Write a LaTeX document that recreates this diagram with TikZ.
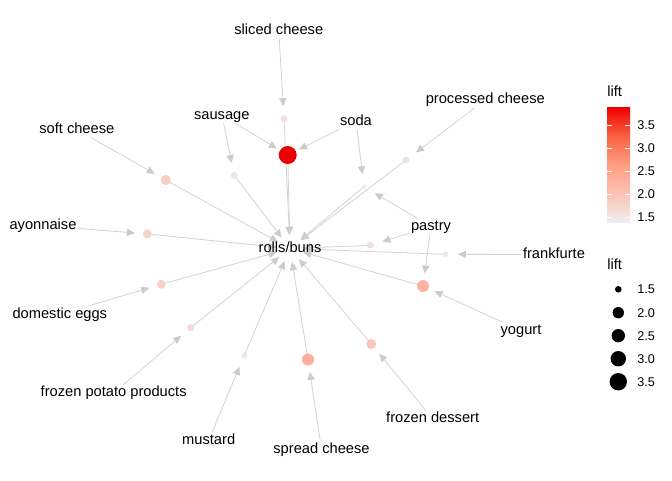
\documentclass[tikz,border=0pt]{standalone}
\usepackage{fontspec}
\setmainfont{Liberation Sans}
\usetikzlibrary{arrows.meta}
\pgfdeclarelayer{bg}
\pgfsetlayers{bg,main}
\definecolor{edgegray}{HTML}{D3D3D3}
\definecolor{tipgray}{HTML}{CCCCCC}
\definecolor{liftlow}{HTML}{EEEEEE}
\definecolor{liftq}{HTML}{FCC1B2}
\definecolor{liftmid}{HTML}{FF9E82}
\definecolor{lifttq}{HTML}{F96041}
\definecolor{lifthigh}{HTML}{EE0000}
\pgfdeclareverticalshading{liftbar}{100bp}{color(0bp)=(liftlow); color(25bp)=(liftlow);
    color(37.5bp)=(liftq); color(50bp)=(liftmid); color(62.5bp)=(lifttq);
    color(75bp)=(lifthigh); color(100bp)=(lifthigh)}

\begin{document}
\begin{tikzpicture}[x=0.75pt, y=-0.75pt, font=\fontsize{11}{13}\selectfont,
    item/.style={inner sep=1pt, text height=8pt, text depth=2pt},
    rule/.style={circle, inner sep=0pt, outer sep=0pt},
    edge/.style={draw=edgegray, line width=0.6pt,
        -{Triangle[length=6pt, width=5.5pt, color=tipgray]}},
    legtext/.style={anchor=west, inner sep=0pt, font=\fontsize{9.5}{11}\selectfont}]
    \useasboundingbox (0,0) rectangle (672,480);

    % rules: name/x/y/radius/colour
    \foreach \n/\x/\y/\r/\c in {A/284/118.7/3.5/F2E1DD,
                                B/287.7/155/9/EE0000,
                                C/234.3/175.3/3.5/F0E4E2,
                                D/165.7/180/5/F9CDC0,
                                E/364/186.7/2.5/EEEEEE,
                                F/406/160/3.5/F2E0DC,
                                G/147.3/234/4.5/F6D4CA,
                                H/370.3/245.3/3.5/F1E1DD,
                                I/445.3/254.3/3/EEEAE9,
                                J/161.3/284.3/4.5/F6D3C9,
                                K/423/286/6/FCB4A2,
                                L/190.7/327.7/3.5/F3DEDA,
                                M/371.3/344/5/FAC6B9,
                                N/244.3/355.3/3/F1E4E1,
                                O/308/359.5/6/FCAF9C}{
        \definecolor{rc}{HTML}{\c}
        \node[rule, fill=rc, minimum size=2*\r*0.75pt] (r\n) at (\x,\y) {};
    }

    % items
    \node[item] (sliced) at (278.8,30.5) {sliced cheese};
    \node[item] (sausage) at (221.8,115) {sausage};
    \node[item] (soda) at (356,121.2) {soda};
    \node[item] (proc) at (485.3,99.8) {processed cheese};
    \node[item] (soft) at (76.8,129.5) {soft cheese};
    \node[item] (mayo) at (43,225.5) {ayonnaise};
    \node[item] (pastry) at (431,226.5) {pastry};
    \node[item] (frank) at (554,254.5) {frankfurte};
    \node[item] (eggs) at (59.8,314.5) {domestic eggs};
    \node[item] (yogurt) at (521,330.5) {yogurt};
    \node[item] (potato) at (113.7,392.8) {frozen potato products};
    \node[item] (dessert) at (432.7,418.8) {frozen dessert};
    \node[item] (mustard) at (208.7,440.5) {mustard};
    \node[item] (spread) at (321.5,449.8) {spread cheese};
    \node[circle, inner sep=0pt, minimum size=27*0.75pt,
          label={[item]center:rolls/buns}] (rb) at (290,248.5) {};

    \begin{pgfonlayer}{bg}
        \foreach \a/\b in {sliced/A, sausage/B, soda/B, sausage/C, soft/D,
                           soda/E, pastry/E, proc/F, mayo/G, pastry/H,
                           frank/I, eggs/J, pastry/K, yogurt/K, potato/L,
                           dessert/M, mustard/N, spread/O}
            \draw[edge, shorten >=9.4pt] (\a) -- (r\b.center);
        \foreach \b in {A,...,O}
            \draw[edge] (r\b.center) -- (rb);
    \end{pgfonlayer}

    % colour legend
    \node[anchor=west, inner sep=0pt] (coltitle) at (607,91.7) {lift};
    \shade[shading=liftbar] (607,107) rectangle (630,222);
    \foreach \y/\t in {125/3.5, 148.1/3.0, 171.2/2.5, 194.2/2.0, 217.3/1.5}{
        \draw[white, line width=0.75pt] (607,\y) -- (611.6,\y) (625.4,\y) -- (630,\y);
        \node[legtext] at (637,\y) {\t};
    }

    % size legend
    \node[anchor=west, inner sep=0pt] (sizetitle) at (607,264) {lift};
    \foreach \y/\r/\t in {289.3/3.3/1.5, 312.7/5.7/2.0, 335.7/6.7/2.5,
                          358.7/7.7/3.0, 381.7/8.7/3.5}{
        \fill (618.3,\y) circle[radius=\r];
        \node[legtext] at (637,\y) {\t};
    }
\end{tikzpicture}
\end{document}
